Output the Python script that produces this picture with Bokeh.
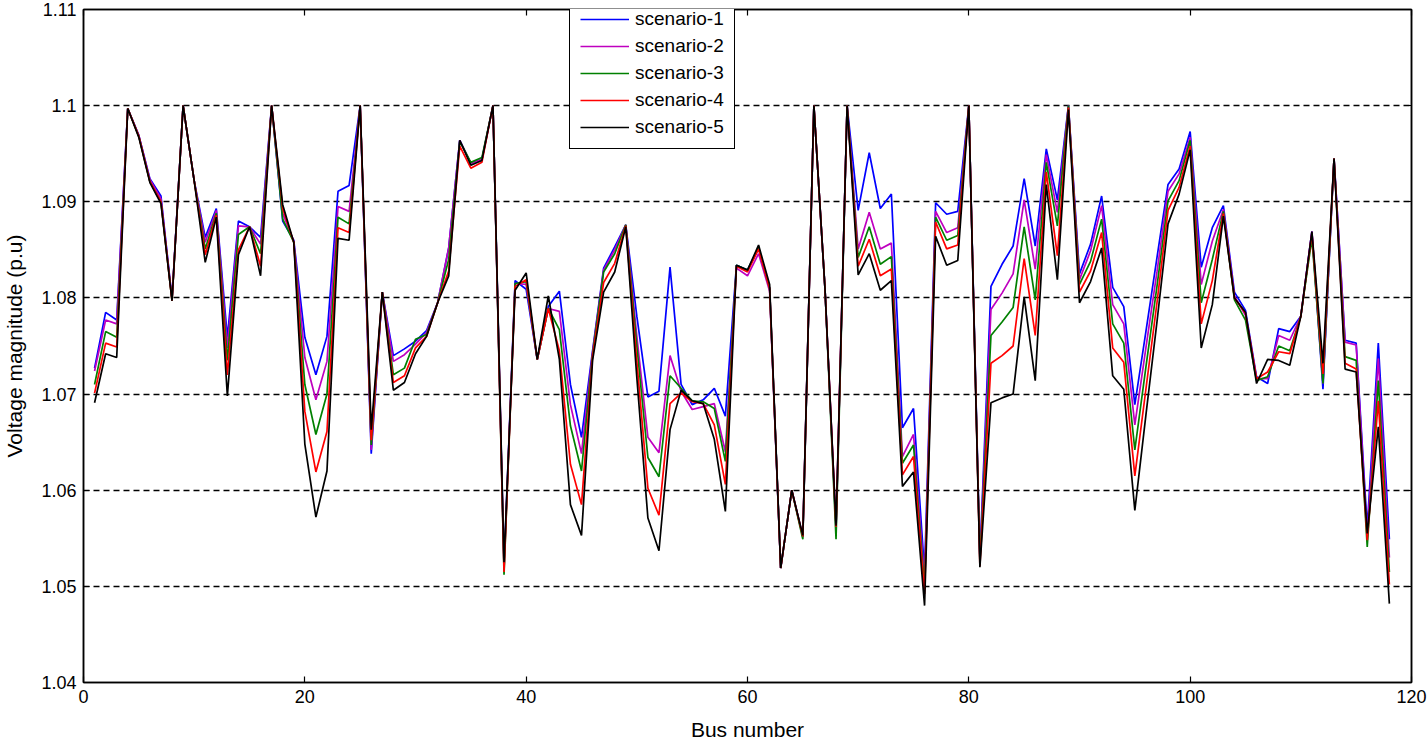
from bokeh.plotting import figure
from bokeh.models import FixedTicker, CustomJSTickFormatter, LinearAxis, Range1d
from bokeh.embed import file_html
from bokeh.resources import INLINE

bus = list(range(1, 119))

scenario_1 = [
    1.0727, 1.0785, 1.0777, 1.0997, 1.0969, 1.0924, 1.0906, 1.0799, 1.1000, 1.0922,
    1.0863, 1.0893, 1.0759, 1.0880, 1.0874, 1.0863, 1.1000, 1.0880, 1.0860, 1.0759,
    1.0720, 1.0760, 1.0911, 1.0917, 1.1000, 1.0638, 1.0806, 1.0740, 1.0747, 1.0755,
    1.0766, 1.0795, 1.0852, 1.0964, 1.0940, 1.0944, 1.1000, 1.0520, 1.0818, 1.0809,
    1.0736, 1.0791, 1.0807, 1.0710, 1.0655, 1.0745, 1.0831, 1.0853, 1.0876, 1.0781,
    1.0697, 1.0703, 1.0832, 1.0710, 1.0689, 1.0694, 1.0706, 1.0677, 1.0834, 1.0829,
    1.0852, 1.0810, 1.0519, 1.0600, 1.0552, 1.1000, 1.0810, 1.0560, 1.1000, 1.0891,
    1.0951, 1.0893, 1.0908, 1.0665, 1.0685, 1.0515, 1.0899, 1.0887, 1.0890, 1.1000,
    1.0530, 1.0812, 1.0835, 1.0854, 1.0924, 1.0854, 1.0955, 1.0902, 1.1000, 1.0825,
    1.0856, 1.0906, 1.0811, 1.0791, 1.0689, 1.0765, 1.0842, 1.0918, 1.0934, 1.0973,
    1.0832, 1.0873, 1.0896, 1.0806, 1.0787, 1.0718, 1.0711, 1.0768, 1.0765, 1.0781,
    1.0869, 1.0705, 1.0945, 1.0756, 1.0753, 1.0561, 1.0753, 1.0549]

scenario_2 = [
    1.0724, 1.0777, 1.0773, 1.0997, 1.0969, 1.0923, 1.0903, 1.0799, 1.1000, 1.0922,
    1.0858, 1.0891, 1.0748, 1.0875, 1.0874, 1.0856, 1.1000, 1.0888, 1.0859, 1.0738,
    1.0694, 1.0734, 1.0895, 1.0890, 1.1000, 1.0642, 1.0806, 1.0734, 1.0741, 1.0752,
    1.0764, 1.0795, 1.0852, 1.0964, 1.0940, 1.0944, 1.1000, 1.0518, 1.0815, 1.0814,
    1.0736, 1.0789, 1.0786, 1.0689, 1.0638, 1.0743, 1.0829, 1.0850, 1.0876, 1.0760,
    1.0655, 1.0639, 1.0740, 1.0703, 1.0684, 1.0687, 1.0690, 1.0640, 1.0831, 1.0823,
    1.0846, 1.0807, 1.0519, 1.0600, 1.0551, 1.1000, 1.0810, 1.0558, 1.1000, 1.0851,
    1.0889, 1.0851, 1.0857, 1.0635, 1.0658, 1.0505, 1.0890, 1.0868, 1.0873, 1.1000,
    1.0527, 1.0788, 1.0805, 1.0825, 1.0902, 1.0830, 1.0949, 1.0889, 1.1000, 1.0819,
    1.0849, 1.0896, 1.0793, 1.0773, 1.0668, 1.0748, 1.0827, 1.0911, 1.0929, 1.0967,
    1.0814, 1.0859, 1.0892, 1.0802, 1.0782, 1.0716, 1.0716, 1.0761, 1.0756, 1.0781,
    1.0869, 1.0711, 1.0945, 1.0754, 1.0751, 1.0552, 1.0737, 1.0530]

scenario_3 = [
    1.0710, 1.0765, 1.0759, 1.0997, 1.0968, 1.0921, 1.0900, 1.0797, 1.1000, 1.0922,
    1.0851, 1.0888, 1.0735, 1.0866, 1.0874, 1.0846, 1.1000, 1.0882, 1.0858, 1.0710,
    1.0658, 1.0700, 1.0884, 1.0877, 1.1000, 1.0647, 1.0806, 1.0720, 1.0727, 1.0757,
    1.0762, 1.0795, 1.0840, 1.0963, 1.0941, 1.0946, 1.1000, 1.0512, 1.0815, 1.0817,
    1.0736, 1.0789, 1.0767, 1.0667, 1.0620, 1.0741, 1.0827, 1.0846, 1.0876, 1.0750,
    1.0634, 1.0614, 1.0719, 1.0706, 1.0693, 1.0692, 1.0685, 1.0630, 1.0834, 1.0829,
    1.0852, 1.0810, 1.0519, 1.0600, 1.0549, 1.1000, 1.0810, 1.0549, 1.1000, 1.0842,
    1.0874, 1.0835, 1.0843, 1.0628, 1.0647, 1.0498, 1.0884, 1.0860, 1.0865, 1.1000,
    1.0525, 1.0761, 1.0775, 1.0790, 1.0874, 1.0798, 1.0941, 1.0875, 1.1000, 1.0814,
    1.0838, 1.0882, 1.0773, 1.0753, 1.0642, 1.0728, 1.0812, 1.0901, 1.0922, 1.0964,
    1.0795, 1.0840, 1.0890, 1.0798, 1.0777, 1.0714, 1.0718, 1.0750, 1.0745, 1.0781,
    1.0862, 1.0711, 1.0945, 1.0739, 1.0735, 1.0541, 1.0714, 1.0515]

scenario_4 = [
    1.0701, 1.0753, 1.0749, 1.0997, 1.0968, 1.0921, 1.0900, 1.0797, 1.1000, 1.0922,
    1.0845, 1.0886, 1.0720, 1.0850, 1.0874, 1.0833, 1.1000, 1.0893, 1.0858, 1.0682,
    1.0619, 1.0661, 1.0873, 1.0868, 1.1000, 1.0652, 1.0806, 1.0712, 1.0719, 1.0748,
    1.0760, 1.0795, 1.0828, 1.0958, 1.0935, 1.0941, 1.1000, 1.0515, 1.0812, 1.0819,
    1.0736, 1.0789, 1.0745, 1.0627, 1.0585, 1.0739, 1.0816, 1.0836, 1.0875, 1.0734,
    1.0602, 1.0574, 1.0690, 1.0701, 1.0692, 1.0690, 1.0668, 1.0606, 1.0833, 1.0827,
    1.0851, 1.0810, 1.0519, 1.0600, 1.0552, 1.1000, 1.0810, 1.0562, 1.1000, 1.0833,
    1.0861, 1.0823, 1.0830, 1.0616, 1.0635, 1.0492, 1.0879, 1.0851, 1.0855, 1.1000,
    1.0521, 1.0732, 1.0740, 1.0750, 1.0841, 1.0761, 1.0931, 1.0844, 1.0998, 1.0806,
    1.0828, 1.0868, 1.0748, 1.0733, 1.0615, 1.0705, 1.0795, 1.0891, 1.0915, 1.0958,
    1.0773, 1.0818, 1.0888, 1.0800, 1.0784, 1.0716, 1.0723, 1.0744, 1.0742, 1.0781,
    1.0867, 1.0721, 1.0945, 1.0732, 1.0726, 1.0548, 1.0693, 1.0502]

scenario_5 = [
    1.0691, 1.0742, 1.0738, 1.0997, 1.0967, 1.0920, 1.0898, 1.0797, 1.1000, 1.0922,
    1.0837, 1.0884, 1.0698, 1.0845, 1.0874, 1.0823, 1.1000, 1.0897, 1.0858, 1.0648,
    1.0572, 1.0620, 1.0862, 1.0860, 1.1000, 1.0663, 1.0806, 1.0704, 1.0712, 1.0742,
    1.0760, 1.0795, 1.0823, 1.0964, 1.0938, 1.0943, 1.1000, 1.0525, 1.0808, 1.0826,
    1.0736, 1.0802, 1.0736, 1.0585, 1.0553, 1.0735, 1.0806, 1.0827, 1.0874, 1.0717,
    1.0571, 1.0537, 1.0663, 1.0704, 1.0693, 1.0690, 1.0653, 1.0578, 1.0834, 1.0829,
    1.0855, 1.0814, 1.0519, 1.0600, 1.0553, 1.1000, 1.0810, 1.0563, 1.1000, 1.0824,
    1.0846, 1.0808, 1.0818, 1.0604, 1.0619, 1.0480, 1.0864, 1.0834, 1.0839, 1.1000,
    1.0520, 1.0691, 1.0696, 1.0700, 1.0801, 1.0714, 1.0918, 1.0819, 1.0996, 1.0795,
    1.0817, 1.0852, 1.0719, 1.0705, 1.0579, 1.0678, 1.0775, 1.0877, 1.0908, 1.0954,
    1.0748, 1.0793, 1.0885, 1.0800, 1.0785, 1.0711, 1.0736, 1.0735, 1.0730, 1.0781,
    1.0869, 1.0732, 1.0945, 1.0726, 1.0723, 1.0555, 1.0666, 1.0482]

series_names = ["scenario-1", "scenario-2", "scenario-3", "scenario-4", "scenario-5"]
series_values = [scenario_1, scenario_2, scenario_3, scenario_4, scenario_5]
series_colors = ["#0000ff", "#bf00bf", "#008000", "#ff0000", "#000000"]

x_ticks = [0, 20, 40, 60, 80, 100, 120]
y_ticks = [1.04, 1.05, 1.06, 1.07, 1.08, 1.09, 1.10, 1.11]

FONT = "Liberation Sans"

p = figure(width=1427, height=745, output_backend="svg", toolbar_location=None,
           x_range=Range1d(0, 120), y_range=Range1d(1.04, 1.11),
           min_border_left=83, min_border_right=16, min_border_top=9, min_border_bottom=63)
p.background_fill_color = "white"
p.border_fill_color = "white"
p.outline_line_color = "black"
p.outline_line_width = 1.5
p.outline_line_alpha = 1

fmt = CustomJSTickFormatter(code="return String(Math.round(tick*100)/100);")

for ax in p.xaxis:
    ax.ticker = FixedTicker(ticks=x_ticks)
    ax.axis_label = "Bus number"
    ax.axis_label_standoff = 12
for ax in p.yaxis:
    ax.ticker = FixedTicker(ticks=y_ticks)
    ax.formatter = fmt
    ax.axis_label = "Voltage magnitude (p.u)"
    ax.axis_label_standoff = 12

for ax in list(p.xaxis) + list(p.yaxis):
    ax.major_tick_in = 6
    ax.major_tick_out = 0
    ax.minor_tick_line_color = None
    ax.axis_line_color = "black"
    ax.axis_line_width = 1.5
    ax.major_tick_line_color = "black"
    ax.major_tick_line_width = 1.2
    ax.major_label_text_font = FONT
    ax.major_label_text_font_size = "18px"
    ax.major_label_text_color = "black"
    ax.axis_label_text_font = FONT
    ax.axis_label_text_font_size = "21px"
    ax.axis_label_text_font_style = "normal"
    ax.axis_label_text_color = "black"
    ax.major_label_standoff = 7

# mirrored ticks on the top and right edges (no labels)
blank = CustomJSTickFormatter(code="return '';")
for loc, tk in (("right", y_ticks), ("above", x_ticks)):
    ax2 = LinearAxis(ticker=FixedTicker(ticks=tk), formatter=blank,
                     major_label_standoff=0, major_tick_in=6, major_tick_out=0,
                     minor_tick_line_color=None, axis_line_color="black",
                     axis_line_width=1.5, major_tick_line_color="black",
                     major_tick_line_width=1.2)
    p.add_layout(ax2, loc)

p.xgrid.visible = False
p.ygrid.grid_line_color = "black"
p.ygrid.grid_line_dash = "6 4"
p.ygrid.grid_line_width = 1.3
p.ygrid.grid_line_alpha = 1

for name, vals, col in zip(series_names, series_values, series_colors):
    p.line(bus, vals, line_color=col, line_width=1.7, legend_label=name)

lg = p.legend[0]
lg.location = (486, 533)
lg.label_text_font = FONT
lg.label_text_font_size = "19px"
lg.label_text_color = "black"
lg.glyph_width = 49
lg.glyph_height = 20
lg.label_height = 20
lg.spacing = 5
lg.padding = 10
lg.label_standoff = 6
lg.margin = 0
lg.border_line_color = "black"
lg.border_line_width = 1.5
lg.border_line_alpha = 1
lg.background_fill_color = "white"
lg.background_fill_alpha = 1

open("out.html", "w").write(file_html(p, INLINE))
